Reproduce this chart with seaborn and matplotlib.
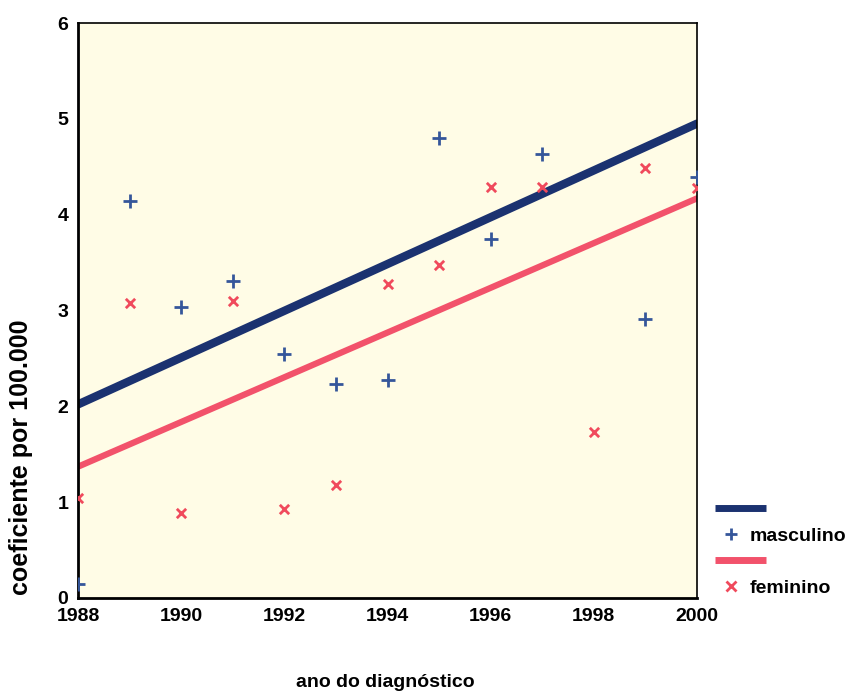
import matplotlib
matplotlib.use("Agg")
import matplotlib.pyplot as plt
from matplotlib.lines import Line2D
from matplotlib.legend_handler import HandlerLine2D
import seaborn as sns
import pandas as pd

# ---- data ----
years_m = [1988, 1989, 1990, 1991, 1992, 1993, 1994, 1995, 1996, 1997, 1999, 2000]
masculino = [0.15, 4.14, 3.04, 3.31, 2.55, 2.23, 2.27, 4.80, 3.75, 4.63, 2.91, 4.39]
years_f = [1988, 1989, 1990, 1991, 1992, 1993, 1994, 1995, 1996, 1997, 1998, 1999, 2000]
feminino = [1.04, 3.08, 0.89, 3.10, 0.93, 1.18, 3.28, 3.47, 4.29, 4.29, 1.73, 4.49, 4.28]
fit_years = [1988, 2000]
fit_masculino = [2.02, 4.95]
fit_feminino = [1.37, 4.17]
xticks = [1988, 1990, 1992, 1994, 1996, 1998, 2000]
yticks = [0, 1, 2, 3, 4, 5, 6]

BLUE_LINE = "#1b3270"
RED_LINE = "#f2526b"
BLUE_PT = "#35569a"
RED_PT = "#f04a5c"
BG = "#fffce6"

sns.set_style("white")
plt.rcParams["font.family"] = ["Liberation Sans", "DejaVu Sans"]
plt.rcParams["text.color"] = "black"
plt.rcParams["axes.labelcolor"] = "black"
plt.rcParams["xtick.color"] = "black"
plt.rcParams["ytick.color"] = "black"

fig = plt.figure(figsize=(8.46, 6.98), dpi=100)
ax = fig.add_axes([78 / 846, 1 - 598 / 698, (697 - 78) / 846, (598 - 23) / 698])
ax.set_facecolor(BG)

df_fit = pd.DataFrame({
    "ano": fit_years * 2,
    "val": fit_masculino + fit_feminino,
    "sexo": ["masculino"] * 2 + ["feminino"] * 2,
})
sns.lineplot(data=df_fit, x="ano", y="val", hue="sexo",
             palette={"masculino": BLUE_LINE, "feminino": RED_LINE},
             hue_order=["masculino", "feminino"], legend=False, ax=ax)
ax.lines[0].set_linewidth(6.0)
ax.lines[1].set_linewidth(4.5)

sns.scatterplot(x=years_m, y=masculino, marker="+", s=95, color=BLUE_PT,
                linewidth=2.0, ax=ax, zorder=3)
sns.scatterplot(x=years_f, y=feminino, marker="x", s=45, color=RED_PT,
                linewidth=2.0, ax=ax, zorder=3)

ax.set_xlim(1988, 2000)
ax.set_ylim(0, 6)
ax.set_xticks(xticks)
ax.set_yticks(yticks)
ax.set_xticklabels([str(t) for t in xticks], fontsize=14, fontweight="bold")
ax.set_yticklabels([str(t) for t in yticks], fontsize=14, fontweight="bold")
ax.tick_params(axis="both", direction="out", length=4, width=3.5, color="black",
               labelcolor="black", pad=3)
for s in ax.spines.values():
    s.set_color("black")
    s.set_linewidth(1.2)
ax.spines["left"].set_linewidth(2)
ax.spines["bottom"].set_linewidth(2)

ax.set_xlabel("ano do diagnóstico", fontsize=14, fontweight="bold", color="black")
ax.xaxis.set_label_coords(0.496, -0.133)
ax.set_ylabel("coeficiente por 100.000", fontsize=18, fontweight="bold", color="black")
ax.yaxis.set_label_coords(-0.073, 0.245)


class LongLineHandler(HandlerLine2D):
    def create_artists(self, legend, orig_handle, xdescent, ydescent, width, height, fontsize, trans):
        y = (height - ydescent) / 2
        line = Line2D([-xdescent, -xdescent + width * 1.6], [y, y],
                      color=orig_handle.get_color(), linewidth=orig_handle.get_linewidth(),
                      solid_capstyle="butt")
        line.set_transform(trans)
        return [line]


h_bl = Line2D([], [], color=BLUE_LINE, linewidth=5)
h_bp = Line2D([], [], color=BLUE_PT, marker="+", linestyle="none", markersize=9, markeredgewidth=2)
h_rl = Line2D([], [], color=RED_LINE, linewidth=5)
h_rp = Line2D([], [], color=RED_PT, marker="x", linestyle="none", markersize=6.5, markeredgewidth=2)
leg = ax.legend([h_bl, h_bp, h_rl, h_rp], ["", "masculino", "", "feminino"],
                loc="center left", bbox_to_anchor=(1.029, 0.085), frameon=False,
                borderaxespad=0, borderpad=0, handlelength=1.65, handletextpad=0.15,
                labelspacing=0.42, prop={"size": 14, "weight": "bold"},
                handler_map={h_bl: LongLineHandler(), h_rl: LongLineHandler()})
for t in leg.get_texts():
    t.set_color("black")

fig.savefig("out.png", dpi=100, facecolor="white")
